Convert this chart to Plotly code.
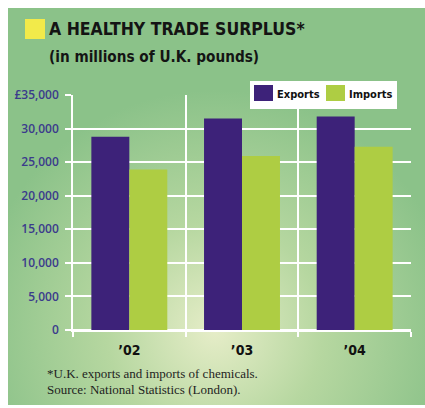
import base64
import plotly.graph_objects as go

# ---- data ----
years = ["\u201902", "\u201903", "\u201904"]
exports = [28800, 31500, 31800]
imports = [23900, 25900, 27300]
series_names = ["Exports", "Imports"]
series_colors = ["#3d2279", "#aecd43"]
y_tickvals = [0, 5000, 10000, 15000, 20000, 25000, 30000, 35000]
y_ticktext = ["0", "5,000", "10,000", "15,000", "20,000", "25,000", "30,000", "\u00a335,000"]

W, H = 425, 408
ML, MR, MT, MB = 73, 14, 95, 78
PW, PH = W - ML - MR, H - MT - MB
COND = "DejaVu Sans Condensed, Roboto"


def px(x):
    return (x - ML) / PW


def py(y):
    return (H - MB - y) / PH


# radial gradient background as inline svg
svg = (
    '<svg xmlns="http://www.w3.org/2000/svg" width="417" height="397" viewBox="0 0 417 397" preserveAspectRatio="none">'
    '<defs><radialGradient id="g" gradientUnits="userSpaceOnUse" cx="207" cy="322" r="240">'
    '<stop offset="0" stop-color="#e6edc8"/>'
    '<stop offset="0.45" stop-color="#b6d7a0"/>'
    '<stop offset="1" stop-color="#8bc289"/>'
    '</radialGradient></defs>'
    '<rect x="0" y="0" width="417" height="397" fill="url(#g)"/></svg>'
)
svg_uri = "data:image/svg+xml;base64," + base64.b64encode(svg.encode()).decode()

fig = go.Figure()
for name, vals, col in zip(series_names, [exports, imports], series_colors):
    fig.add_trace(go.Bar(name=name, x=years, y=vals, marker=dict(color=col, line=dict(width=0))))

shapes = [
    # title square
    dict(type="rect", xref="paper", yref="paper",
         x0=px(25), x1=px(45), y0=py(39), y1=py(19),
         fillcolor="#f2ea4a", line=dict(width=0)),
    # legend box
    dict(type="rect", xref="paper", yref="paper",
         x0=px(250), x1=px(397), y0=py(109), y1=py(81),
         fillcolor="white", line=dict(width=0)),
]
annotations = [
    dict(text="A HEALTHY TRADE SURPLUS*", xref="paper", yref="paper",
         x=px(47), y=py(29), xanchor="left", yanchor="middle", showarrow=False,
         font=dict(family=COND, size=17.5, color="#141414", weight="bold")),
    dict(text="(in millions of U.K. pounds)", xref="paper", yref="paper",
         x=px(47), y=py(57), xanchor="left", yanchor="middle", showarrow=False,
         font=dict(family=COND, size=15.2, color="#141414", weight="bold")),
    dict(text="*U.K. exports and imports of chemicals.", xref="paper", yref="paper",
         x=px(45), y=py(373), xanchor="left", yanchor="middle", showarrow=False,
         font=dict(family="Liberation Serif", size=13, color="#1e1e1e")),
    dict(text="Source: National Statistics (London).", xref="paper", yref="paper",
         x=px(45), y=py(389), xanchor="left", yanchor="middle", showarrow=False,
         font=dict(family="Liberation Serif", size=13, color="#1e1e1e")),
]
# manual legend entries
swatch_x = [254, 326]
for sx, name, col in zip(swatch_x, series_names, series_colors):
    shapes.append(dict(type="rect", xref="paper", yref="paper",
                       x0=px(sx), x1=px(sx + 19), y0=py(101), y1=py(85),
                       fillcolor=col, line=dict(width=0)))
    annotations.append(dict(text=name, xref="paper", yref="paper",
                            x=px(sx + 21), y=py(94), xanchor="left", yanchor="middle",
                            showarrow=False,
                            font=dict(family=COND, size=11, color="#111111", weight="bold")))

fig.update_layout(
    width=W, height=H,
    margin=dict(l=ML, r=MR, t=MT, b=MB, pad=0),
    paper_bgcolor="white",
    plot_bgcolor="rgba(0,0,0,0)",
    barmode="group",
    bargap=0.326,
    bargroupgap=0,
    showlegend=False,
    images=[dict(
        source=svg_uri, xref="paper", yref="paper",
        x=px(8), y=py(8), sizex=417 / PW, sizey=397 / PH,
        xanchor="left", yanchor="top", sizing="stretch", layer="below",
    )],
    shapes=shapes,
    annotations=annotations,
)

fig.update_yaxes(
    range=[0, 35000],
    tickvals=y_tickvals, ticktext=y_ticktext,
    ticks="outside", ticklen=6, tickcolor="white", tickwidth=1.5,
    showgrid=True, gridcolor="white", gridwidth=1.5,
    zeroline=True, zerolinecolor="white", zerolinewidth=1.5,
    showline=True, linecolor="white", linewidth=1.5,
    tickfont=dict(family="Open Sans", size=12, color="#3b3b8c", weight=600),
    ticklabelstandoff=4,
)
fig.update_xaxes(
    type="category",
    tickson="boundaries",
    ticks="outside", ticklen=5, tickcolor="white", tickwidth=1.5,
    showgrid=True, gridcolor="white", gridwidth=1.5,
    showline=True, linecolor="white", linewidth=1.5,
    tickfont=dict(family=COND, size=14, color="#111111", weight="bold"),
    ticklabelstandoff=6,
)

fig.write_html("out.html")
